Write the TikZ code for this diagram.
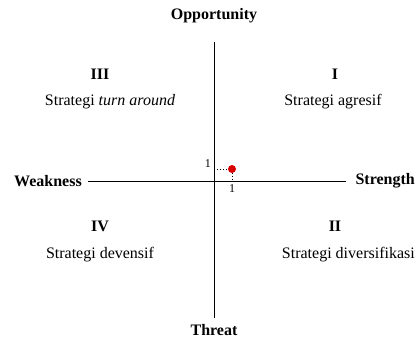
\documentclass[tikz,border=0pt]{standalone}
\usepackage{fontspec}
\setmainfont{Liberation Serif}
\usetikzlibrary{positioning}

\begin{document}
\begin{tikzpicture}[x=1pt,y=-1pt,
	axis_label/.style={font=\fontsize{16}{18}\selectfont\bfseries, inner sep=1pt},
	quad_num/.style={font=\fontsize{16}{18}\selectfont\bfseries, inner sep=1pt},
	quad_text/.style={font=\fontsize{16}{18}\selectfont, inner sep=1pt},
	tick_label/.style={font=\fontsize{12}{14}\selectfont, inner sep=1pt}]
	\useasboundingbox (0,0) rectangle (416,338);
	\node[axis_label] (opp) at (214,16) {Opportunity};
	\node[axis_label] (thr) at (214,330) {Threat};
	\node[axis_label, anchor=west] (weak) at (13,181) {Weakness};
	\node[axis_label, anchor=east] (str) at (416,181) {Strength};
	\coordinate (top) at (214,42);
	\coordinate (bot) at (214,318);
	\coordinate (left) at (88,181);
	\coordinate (right) at (346,181);
	\draw[line width=0.8pt] (top) -- (bot);
	\draw[line width=0.8pt] (left) -- (right);
	\node[quad_num] (q3) at (100,74) {III};
	\node[quad_text] (s3) at (110,102) {Strategi \textit{turn around}};
	\node[quad_num] (q1) at (335,74) {I};
	\node[quad_text] (s1) at (333,102) {Strategi agresif};
	\node[quad_num] (q4) at (100,226) {IV};
	\node[quad_text] (s4) at (100,255) {Strategi devensif};
	\node[quad_num] (q2) at (335,226) {II};
	\node[quad_text, anchor=east] (s2) at (416,255) {Strategi diversifikasi};
	% titik posisi
	\node[circle, fill=red!85!black, inner sep=0pt, minimum size=8pt] (pt) at (232,169) {};
	\coordinate (py) at (214,169);
	\coordinate (px) at (232,181);
	\draw[dotted, line width=1pt] (py) -- (pt);
	\draw[dotted, line width=1pt] (pt) -- (px);
	\node[tick_label, anchor=east] (one_y) at (212,164) {1};
	\node[tick_label] (one_x) at (232,189) {1};
\end{tikzpicture}
\end{document}
